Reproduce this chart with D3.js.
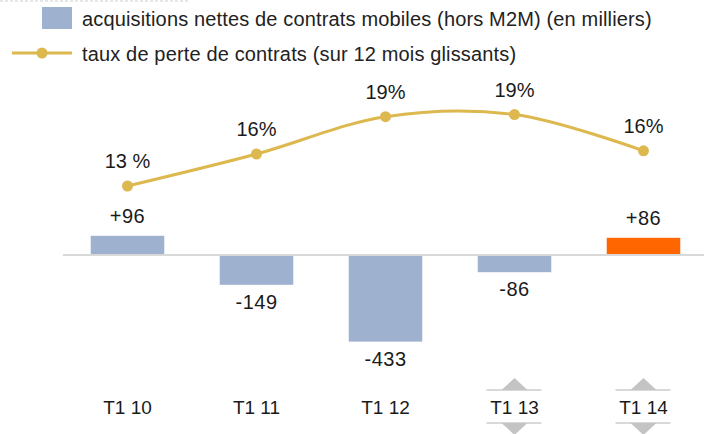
<!DOCTYPE html>
<html>
<head>
<meta charset="utf-8">
<script src="https://cdn.jsdelivr.net/npm/d3@7"></script>
<style>
  body { margin: 0; background: #fff; }
  svg { display: block; font-family: "Liberation Sans", Arial, Helvetica, sans-serif; }
</style>
</head>
<body>
<svg width="704" height="434"></svg>
<script>
// chart data
const categories = ['T1 10', 'T1 11', 'T1 12', 'T1 13', 'T1 14'];
const acquisitions = [96, -149, -433, -86, 86];
const acqLabels = ['+96', '-149', '-433', '-86', '+86'];
const tauxPerte = [13.0, 16.0, 19.5, 19.7, 16.3];
const tauxLabels = ['13 %', '16%', '19%', '19%', '16%'];
const markedCategories = ['T1 13', 'T1 14'];

const svg = d3.select('svg');
const barColor = '#9eb1cf';
const highlightColor = '#ff6600';
const lineColor = '#dcb84f';
const gridGray = '#d9d9d9';

const x = d3.scaleBand()
    .domain(categories)
    .range([63, 708])
    .paddingInner(0.43)
    .paddingOuter(0.215);

const yBar = d3.scaleLinear()
    .domain([-500, 200])
    .range([355, 215]);

const yLine = d3.scaleLinear()
    .domain([10, 25])
    .range([218, 58]);

// top dashed rule
svg.append('line')
    .attr('x1', 0).attr('x2', 190)
    .attr('y1', 1).attr('y2', 1)
    .attr('stroke', '#cfcfcf')
    .attr('stroke-width', 1)
    .attr('stroke-dasharray', '3,2');

// legend
svg.append('rect')
    .attr('x', 42).attr('y', 7)
    .attr('width', 30).attr('height', 22)
    .attr('fill', barColor);
svg.append('text')
    .attr('x', 82).attr('y', 26)
    .attr('font-size', 20)
    .attr('letter-spacing', 0.15)
    .attr('fill', '#222')
    .text('acquisitions nettes de contrats mobiles (hors M2M) (en milliers)');
svg.append('line')
    .attr('x1', 12).attr('x2', 72)
    .attr('y1', 53).attr('y2', 53)
    .attr('stroke', lineColor)
    .attr('stroke-width', 3);
svg.append('circle')
    .attr('cx', 42).attr('cy', 53).attr('r', 5.5)
    .attr('fill', lineColor);
svg.append('text')
    .attr('x', 82).attr('y', 61)
    .attr('font-size', 20)
    .attr('letter-spacing', 0.15)
    .attr('fill', '#222')
    .text('taux de perte de contrats (sur 12 mois glissants)');

// bars
svg.append('g')
    .selectAll('rect')
    .data(acquisitions)
    .enter()
    .append('rect')
    .attr('x', (d, i) => x(categories[i]))
    .attr('width', x.bandwidth())
    .attr('y', d => yBar(Math.max(d, 0)))
    .attr('height', d => Math.abs(yBar(d) - yBar(0)))
    .attr('fill', (d, i) => i === categories.length - 1 ? highlightColor : barColor);

// zero line
svg.append('line')
    .attr('x1', 63).attr('x2', 704)
    .attr('y1', yBar(0)).attr('y2', yBar(0))
    .attr('stroke', gridGray)
    .attr('stroke-width', 2);

// bar labels
svg.append('g')
    .selectAll('text')
    .data(acquisitions)
    .enter()
    .append('text')
    .attr('x', (d, i) => x(categories[i]) + x.bandwidth() / 2)
    .attr('y', d => d >= 0 ? yBar(d) - 13 : yBar(d) + 24)
    .attr('text-anchor', 'middle')
    .attr('font-size', 20)
    .attr('letter-spacing', 0.5)
    .attr('fill', '#1a1a1a')
    .text((d, i) => acqLabels[i]);

// loss-rate line
const line = d3.line()
    .x((d, i) => x(categories[i]) + x.bandwidth() / 2)
    .y(d => yLine(d))
    .curve(d3.curveCatmullRom.alpha(0.5));

svg.append('path')
    .datum(tauxPerte)
    .attr('d', line)
    .attr('fill', 'none')
    .attr('stroke', lineColor)
    .attr('stroke-width', 3);

svg.append('g')
    .selectAll('circle')
    .data(tauxPerte)
    .enter()
    .append('circle')
    .attr('cx', (d, i) => x(categories[i]) + x.bandwidth() / 2)
    .attr('cy', d => yLine(d))
    .attr('r', 5.5)
    .attr('fill', lineColor);

svg.append('g')
    .selectAll('text')
    .data(tauxPerte)
    .enter()
    .append('text')
    .attr('x', (d, i) => x(categories[i]) + x.bandwidth() / 2)
    .attr('y', d => yLine(d) - 18)
    .attr('text-anchor', 'middle')
    .attr('font-size', 20)
    .attr('fill', '#1a1a1a')
    .text((d, i) => tauxLabels[i]);

// category axis
const axis = svg.append('g');
axis.selectAll('text')
    .data(categories)
    .enter()
    .append('text')
    .attr('x', d => x(d) + x.bandwidth() / 2)
    .attr('y', 414)
    .attr('text-anchor', 'middle')
    .attr('font-size', 19)
    .attr('fill', '#1a1a1a')
    .text(d => d);

// up/down markers
const markers = axis.selectAll('g.marker')
    .data(markedCategories)
    .enter()
    .append('g')
    .attr('class', 'marker')
    .attr('transform', d => `translate(${x(d) + x.bandwidth() / 2},0)`);

markers.append('line')
    .attr('x1', -28).attr('x2', 27)
    .attr('y1', 390).attr('y2', 390)
    .attr('stroke', '#cccccc').attr('stroke-width', 1.5);
markers.append('path')
    .attr('d', 'M-13,390 L0,378 L13,390 Z')
    .attr('fill', '#c4c4c4');
markers.append('line')
    .attr('x1', -28).attr('x2', 27)
    .attr('y1', 423).attr('y2', 423)
    .attr('stroke', '#cccccc').attr('stroke-width', 1.5);
markers.append('path')
    .attr('d', 'M-13,423 L0,435 L13,423 Z')
    .attr('fill', '#c4c4c4');
</script>
</body>
</html>
